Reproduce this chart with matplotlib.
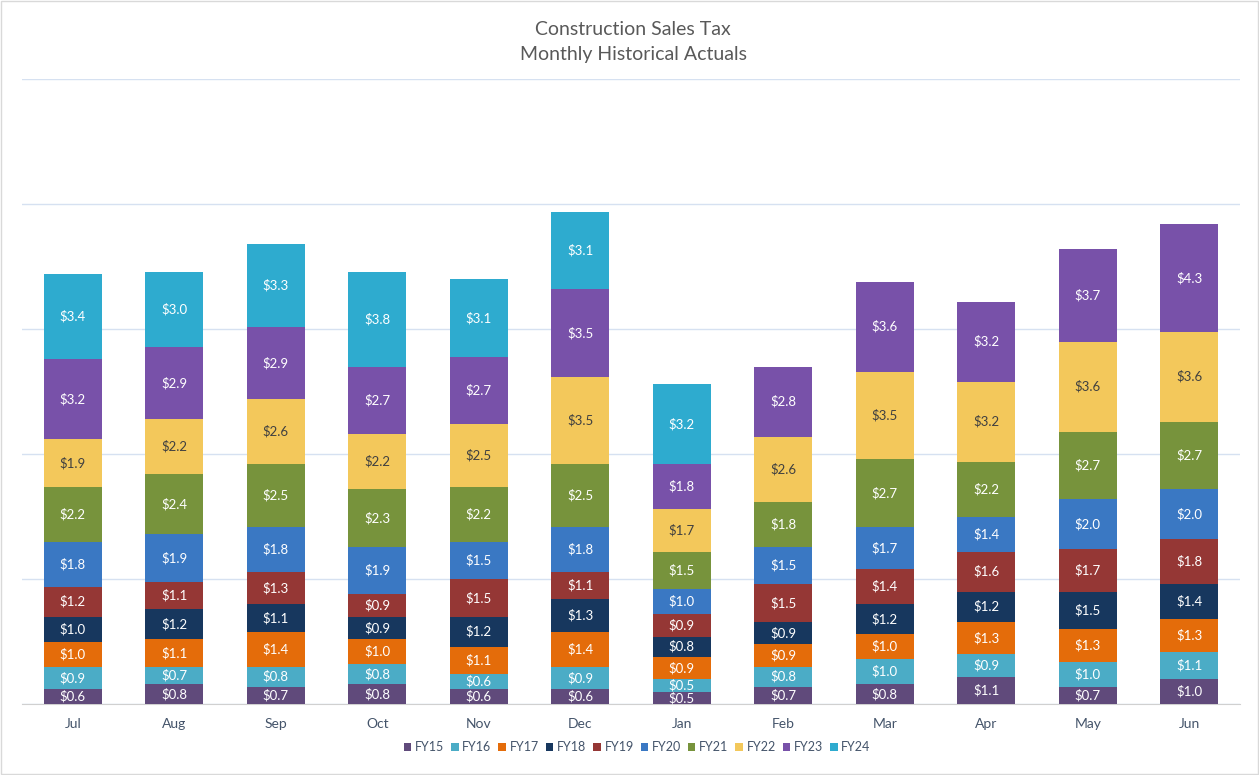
import matplotlib.pyplot as plt
import numpy as np

plt.rcParams['font.family'] = ['Lato', 'DejaVu Sans']

months = ['Jul', 'Aug', 'Sep', 'Oct', 'Nov', 'Dec', 'Jan', 'Feb', 'Mar', 'Apr', 'May', 'Jun']
years = ['FY15', 'FY16', 'FY17', 'FY18', 'FY19', 'FY20', 'FY21', 'FY22', 'FY23', 'FY24']

fy15 = [0.6, 0.8, 0.7, 0.8, 0.6, 0.6, 0.5, 0.7, 0.8, 1.1, 0.7, 1.0]
fy16 = [0.9, 0.7, 0.8, 0.8, 0.6, 0.9, 0.5, 0.8, 1.0, 0.9, 1.0, 1.1]
fy17 = [1.0, 1.1, 1.4, 1.0, 1.1, 1.4, 0.9, 0.9, 1.0, 1.3, 1.3, 1.3]
fy18 = [1.0, 1.2, 1.1, 0.9, 1.2, 1.3, 0.8, 0.9, 1.2, 1.2, 1.5, 1.4]
fy19 = [1.2, 1.1, 1.3, 0.9, 1.5, 1.1, 0.9, 1.5, 1.4, 1.6, 1.7, 1.8]
fy20 = [1.8, 1.9, 1.8, 1.9, 1.5, 1.8, 1.0, 1.5, 1.7, 1.4, 2.0, 2.0]
fy21 = [2.2, 2.4, 2.5, 2.3, 2.2, 2.5, 1.5, 1.8, 2.7, 2.2, 2.7, 2.7]
fy22 = [1.9, 2.2, 2.6, 2.2, 2.5, 3.5, 1.7, 2.6, 3.5, 3.2, 3.6, 3.6]
fy23 = [3.2, 2.9, 2.9, 2.7, 2.7, 3.5, 1.8, 2.8, 3.6, 3.2, 3.7, 4.3]
fy24 = [3.4, 3.0, 3.3, 3.8, 3.1, 3.1, 3.2, None, None, None, None, None]

series = [fy15, fy16, fy17, fy18, fy19, fy20, fy21, fy22, fy23, fy24]
colors = ['#604a7b', '#4bacc6', '#e46c0a', '#17375e', '#953735',
          '#3a78c3', '#77933c', '#f3c85b', '#7851a9', '#2eabcf']

fig = plt.figure(figsize=(12.59, 7.75), dpi=100)
ax = fig.add_axes([0.0175, 0.0916, 0.9675, 0.8064])

x = np.arange(len(months))
bottom = np.zeros(len(months))
for name, vals, col in zip(years, series, colors):
    v = np.array([np.nan if a is None else a for a in vals], dtype=float)
    h = np.nan_to_num(v)
    bars = ax.bar(x, h, 0.57, bottom=bottom, color=col, label=name, zorder=3)
    txtcol = '#404040' if name == 'FY22' else 'white'
    for i in range(len(months)):
        if not np.isnan(v[i]):
            ax.text(x[i], bottom[i] + h[i] / 2, '$%.1f' % v[i], ha='center', va='center',
                    fontsize=9.5, color=txtcol, zorder=4)
    bottom = bottom + h

ax.set_ylim(0, 25)
ax.set_xlim(-0.5, 11.5)
ax.set_yticks([0, 5, 10, 15, 20, 25])
ax.set_yticklabels([])
ax.tick_params(axis='y', length=0)
ax.tick_params(axis='x', length=0, labelsize=10, labelcolor='#44546a', pad=10)
ax.set_xticks(x)
ax.set_xticklabels(months)
ax.grid(axis='y', color='#d6e1f1', linewidth=1, zorder=0)
for s in ['top', 'right', 'left']:
    ax.spines[s].set_visible(False)
ax.spines['bottom'].set_color('#d0d0d0')

fig.text(0.503, 0.962, 'Construction Sales Tax', ha='center', va='center', fontsize=14, color='#595959')
fig.text(0.503, 0.930, 'Monthly Historical Actuals', ha='center', va='center', fontsize=14, color='#595959')

leg = ax.legend(loc='center', bbox_to_anchor=(0.505, -0.069), ncol=10, frameon=False,
                fontsize=9, handlelength=0.6, handleheight=0.6, handletextpad=0.3,
                columnspacing=0.55)
for t in leg.get_texts():
    t.set_color('#44546a')

fig.patches.append(plt.Rectangle((0.001, 0.001), 0.998, 0.998, transform=fig.transFigure,
                                 fill=False, edgecolor='#d9d9d9', linewidth=1))

plt.savefig('out.png', dpi=100)
